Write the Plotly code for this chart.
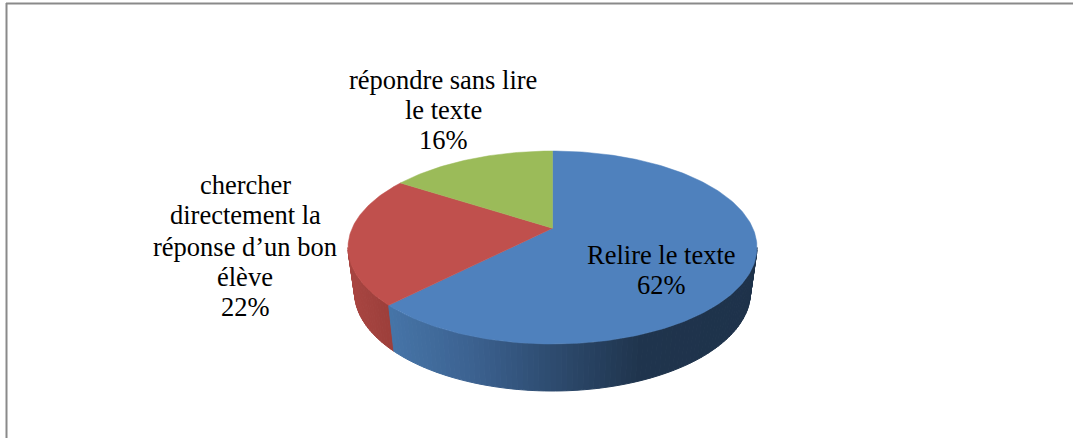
import math
import plotly.graph_objects as go

# Data
categories = ["Relire le texte", "chercher directement la réponse d’un bon élève", "répondre sans lire le texte"]
values = [62, 22, 16]
slice_colors = ["#4F81BD", "#C0504D", "#9BBB59"]

label_lines = [
    ["Relire le texte", "62%"],
    ["chercher", "directement la", "réponse d’un bon", "élève", "22%"],
    ["répondre sans lire", "le texte", "16%"],
]
label_x = [661, 245, 443]
label_y = [[255, 285], [185, 215, 247, 277, 307], [80, 110, 140]]

# Drawing geometry: top rim and (perspective-shrunk) bottom rim of the 3D pie
CX, CY, RX, RY = 552.5, 247.5, 204.5, 96.5
BOT_CY, BOT_RX, BOT_RY = 292, 198, 99
TILT = 0.2
WARP = 1.5
W, H = 1073, 438


def project(turn_deg):
    """Perspective projection of a rim point (clockwise from top) into unit ellipse coords."""
    turn_deg = turn_deg + WARP * math.sin(math.radians(turn_deg) / 2) ** 2
    t = math.radians(turn_deg)
    x, y = math.sin(t), math.cos(t)
    d = 1 + TILT * y
    return x * math.sqrt(1 - TILT ** 2) / d, (y + TILT) / d


def rim(turn_deg):
    x, y = project(turn_deg)
    return CX + RX * x, CY - RY * y


def screen_angle(turn_deg):
    x, y = project(turn_deg)
    return math.degrees(math.atan2(x, y)) % 360


def top_pt(t_deg):
    t = math.radians(t_deg)
    return CX + RX * math.sin(t), CY - RY * math.cos(t)


def bot_pt(t_deg):
    t = math.radians(t_deg)
    return CX + BOT_RX * math.sin(t), BOT_CY - BOT_RY * math.cos(t)


def lerp_hex(stops, u):
    for (u0, c0), (u1, c1) in zip(stops, stops[1:]):
        if u <= u1:
            f = max((u - u0) / (u1 - u0), 0) if u1 > u0 else 0
            return "rgb(%d,%d,%d)" % tuple(round(a + (b - a) * f) for a, b in zip(c0, c1))
    return "rgb(%d,%d,%d)" % stops[-1][1]


blue_side = [(388, (70, 117, 168)), (470, (60, 98, 145)), (550, (46, 76, 112)), (640, (31, 52, 77)), (760, (30, 50, 74))]
red_side = [(345, (170, 70, 66)), (395, (155, 62, 58))]

fig = go.Figure()

boundaries = []
acc = 0
for v in values:
    boundaries.append((acc, acc + v))
    acc += v
scale = 360 / acc

# Side wall
t_split = screen_angle(boundaries[0][1] * scale)


def strips(t0, t1, stops, n):
    for i in range(n):
        a = t0 + (t1 - t0) * i / n
        b = t0 + (t1 - t0) * (i + 1) / n
        pts = [a + (b - a) * k / 4 for k in range(5)]
        outline = [top_pt(p) for p in pts] + [bot_pt(p) for p in reversed(pts)]
        xs = [p[0] for p in outline]
        ys = [p[1] for p in outline]
        col = lerp_hex(stops, sum(xs) / len(xs))
        fig.add_trace(go.Scatter(x=xs + xs[:1], y=ys + ys[:1], mode="lines", fill="toself", fillcolor=col,
                                 line=dict(width=1, color=col), hoverinfo="skip", showlegend=False))


strips(t_split, 270, red_side, 24)
strips(90, t_split, blue_side, 90)

# Top face
vx, vy = CX, CY - RY * TILT
for name, (a, b), color in zip(categories, boundaries, slice_colors):
    n = max(int((b - a) * scale), 2)
    pts = [rim((a + (b - a) * k / n) * scale) for k in range(n + 1)]
    fig.add_trace(go.Scatter(x=[vx] + [p[0] for p in pts] + [vx],
                             y=[vy] + [p[1] for p in pts] + [vy],
                             mode="lines", fill="toself", fillcolor=color,
                             line=dict(width=0.5, color=color), name=name, showlegend=False, hoverinfo="name"))

annotations = []
for lines, x, ys in zip(label_lines, label_x, label_y):
    for line, y in zip(lines, ys):
        annotations.append(dict(x=x, y=y, text=line, showarrow=False, xanchor="center", yanchor="middle",
                                font=dict(family="Liberation Serif", size=26.5, color="#000000")))

frame = [
    dict(type="line", x0=6.5, x1=6.5, y0=3, y1=H, line=dict(color="#8a8a8a", width=2)),
    dict(type="line", x0=6, x1=W, y0=3.5, y1=3.5, line=dict(color="#8a8a8a", width=2)),
]

fig.update_layout(
    width=W, height=H, margin=dict(l=0, r=0, t=0, b=0),
    paper_bgcolor="white", plot_bgcolor="white", showlegend=False,
    xaxis=dict(range=[0, W], visible=False, fixedrange=True),
    yaxis=dict(range=[H, 0], visible=False, fixedrange=True),
    annotations=annotations, shapes=frame,
)
fig.write_html("out.html", config=dict(displayModeBar=False),
               post_script="document.body.style.margin='0';document.documentElement.style.overflow='hidden';")
